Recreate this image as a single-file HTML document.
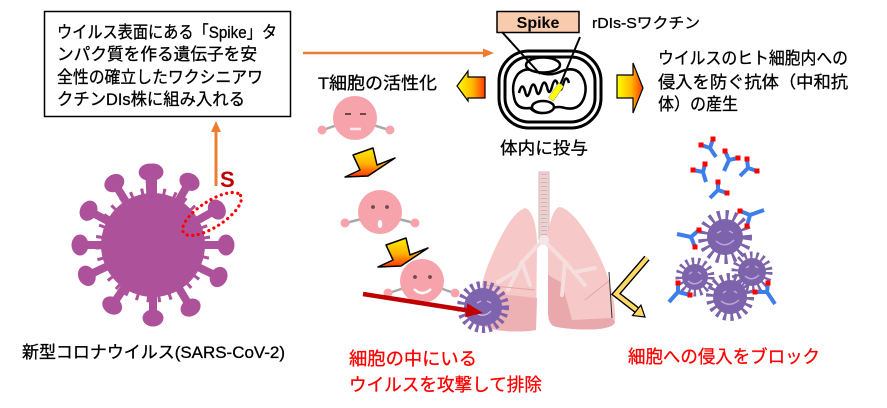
<!DOCTYPE html>
<html><head><meta charset="utf-8">
<style>
html,body{margin:0;padding:0;background:#fff;}
svg{display:block;}
text{font-family:"Liberation Sans","Noto Sans CJK JP",sans-serif;}
.t{stroke:#000;stroke-width:0.3;}
.r{stroke:#FF0000;stroke-width:0.3;}
</style></head><body>
<svg width="887" height="408" viewBox="0 0 887 408" xmlns="http://www.w3.org/2000/svg">
<defs>
<linearGradient id="gh" x1="0" y1="0" x2="1" y2="0">
 <stop offset="0" stop-color="#FFFF00"/><stop offset="0.55" stop-color="#FFB800"/><stop offset="1" stop-color="#FF3A00"/>
</linearGradient>
<linearGradient id="gv" x1="0" y1="0" x2="0" y2="1">
 <stop offset="0" stop-color="#FFF000"/><stop offset="0.55" stop-color="#FFB000"/><stop offset="1" stop-color="#FF3000"/>
</linearGradient>
</defs>

<!-- Text box -->
<rect x="44.5" y="11.5" width="246" height="105" fill="#fff" stroke="#000" stroke-width="1.5"/>
<text class="t" x="57" y="38" font-size="17" textLength="220" lengthAdjust="spacingAndGlyphs">ウイルス表面にある「Spike」タ</text>
<text class="t" x="57" y="60" font-size="17" textLength="200" lengthAdjust="spacingAndGlyphs">ンパク質を作る遺伝子を安</text>
<text class="t" x="57" y="83" font-size="17" textLength="206" lengthAdjust="spacingAndGlyphs">全性の確立したワクシニアワ</text>
<text class="t" x="57" y="105" font-size="17" textLength="188" lengthAdjust="spacingAndGlyphs">クチンDIs株に組み入れる</text>

<!-- orange arrows -->
<line x1="303" y1="53" x2="485" y2="53" stroke="#ED7D31" stroke-width="2.5"/>
<polygon points="494,53 483,48.5 483,57.5" fill="#ED7D31"/>
<line x1="216" y1="186" x2="216" y2="130" stroke="#ED7D31" stroke-width="3"/>
<polygon points="216,121 211,132 221,132" fill="#ED7D31"/>

<!-- Left virus -->
<g transform="translate(153,245)" fill="#AE519B">
 <circle r="52"/>
 <circle r="54" fill="none" stroke="#AE519B" stroke-width="7" stroke-dasharray="3 8"/>
 <g id="spk"><rect x="-4" y="-70" width="8" height="22"/><ellipse cx="0" cy="-73" rx="10.5" ry="8.5"/></g>
 <use href="#spk" transform="rotate(-3)"/>
 <use href="#spk" transform="rotate(30)"/>
 <use href="#spk" transform="rotate(61)"/>
 <use href="#spk" transform="rotate(90)"/>
 <use href="#spk" transform="rotate(116)"/>
 <use href="#spk" transform="rotate(149)"/>
 <use href="#spk" transform="rotate(180)"/>
 <use href="#spk" transform="rotate(214)"/>
 <use href="#spk" transform="rotate(245)"/>
 <use href="#spk" transform="rotate(270)"/>
 <use href="#spk" transform="rotate(298)"/>
 <use href="#spk" transform="rotate(328)"/>
</g>
<ellipse cx="212" cy="214" rx="34" ry="13" transform="rotate(-33 212 214)" fill="none" stroke="#FF0000" stroke-width="3.2" stroke-dasharray="0.1 5.5" stroke-linecap="round"/>
<text x="220" y="187" font-size="22" font-weight="bold" fill="#C00000">S</text>
<text class="t" x="22" y="358" font-size="17" textLength="263" lengthAdjust="spacingAndGlyphs">新型コロナウイルス(SARS-CoV-2)</text>

<!-- Vaccine icon -->
<rect x="497" y="11.5" width="82" height="21" fill="#F8CBAD" stroke="#000" stroke-width="1.5"/>
<text x="538" y="28" font-size="16" font-weight="bold" text-anchor="middle">Spike</text>
<text class="t" x="592" y="28" font-size="15" textLength="108" lengthAdjust="spacingAndGlyphs">rDIs-Sワクチン</text>
<g fill="none" stroke="#000" stroke-width="3">
 <rect x="499" y="51" width="102" height="77" rx="30"/>
 <rect x="505" y="57" width="90" height="65" rx="24"/>
 <path d="M518,74 Q526,66 538,72 Q550,77 562,71 Q576,66 582,76 Q588,86 584,98 Q579,111 565,108 Q555,105 548,111 Q538,116 530,108 Q516,110 514,97 Q511,83 518,74 Z" stroke-width="2.5"/>
 <ellipse cx="543" cy="65" rx="17" ry="7.5" fill="#fff" stroke-width="2.5"/>
 <ellipse cx="543" cy="107" rx="11" ry="6" fill="#fff" stroke-width="2.5"/>
 <path d="M519,93 q3,-12 6,-2 q2,10 5,0 q3,-12 6,-2 q2,10 5,0 q3,-12 6,-2 q2,10 5,0 q3,-12 6,-2 q2,10 5,0 q3,-12 6,-2" stroke-width="2.5"/>
 <line x1="502" y1="32" x2="540" y2="74" stroke-width="2"/>
 <line x1="580" y1="37" x2="555" y2="97" stroke-width="2"/>
</g>
<rect x="553" y="83" width="6" height="18" fill="#FFFF00" stroke="#999" stroke-width="0.5" transform="rotate(35 556 92)"/>
<text class="t" x="500" y="154" font-size="17" textLength="88" lengthAdjust="spacingAndGlyphs">体内に投与</text>

<!-- side block arrows -->
<polygon points="457,86 468,71 468,77 485,77 485,98 468,98 468,101" fill="url(#gh)" stroke="#000" stroke-width="1.2"/>
<polygon points="617,75 633,75 633,63 643,88 633,113 633,98 617,98" fill="url(#gh)" stroke="#000" stroke-width="1.2"/>

<text class="t" x="318" y="89" font-size="17" textLength="119" lengthAdjust="spacingAndGlyphs">T細胞の活性化</text>
<text class="t" x="658" y="64" font-size="17" textLength="190" lengthAdjust="spacingAndGlyphs">ウイルスのヒト細胞内への</text>
<text class="t" x="658" y="88" font-size="17" textLength="190" lengthAdjust="spacingAndGlyphs">侵入を防ぐ抗体（中和抗</text>
<text class="t" x="658" y="110" font-size="17" textLength="80" lengthAdjust="spacingAndGlyphs">体）の産生</text>

<!-- T cells -->
<g stroke="#A8A8A8" stroke-width="2.5">
 <line x1="340" y1="124" x2="323" y2="130"/><line x1="370" y1="124" x2="389" y2="130"/>
 <line x1="365" y1="218" x2="346" y2="223"/><line x1="395" y1="218" x2="414" y2="223"/>
 <line x1="407" y1="287" x2="389" y2="293"/><line x1="437" y1="287" x2="454" y2="293"/>
</g>
<g fill="#F7A3AB">
 <circle cx="322" cy="130" r="4.5"/><circle cx="390" cy="130" r="4.5"/>
 <circle cx="345" cy="223" r="4.5"/><circle cx="415" cy="223" r="4.5"/>
 <circle cx="388" cy="293" r="4.5"/><circle cx="455" cy="293" r="4.5"/>
 <circle cx="355" cy="118" r="22"/>
 <circle cx="380" cy="212" r="22"/>
 <circle cx="422" cy="281" r="22"/>
</g>
<g stroke="#6a4a4a" stroke-width="2"><line x1="345" y1="114" x2="351" y2="114"/><line x1="360" y1="114" x2="366" y2="114"/></g>
<line x1="350" y1="129" x2="361" y2="129" stroke="#FFE8EC" stroke-width="2.5"/>
<g fill="#6a4a4a"><circle cx="373" cy="207" r="1.9"/><circle cx="387" cy="207" r="1.9"/><circle cx="415" cy="277" r="1.9"/><circle cx="430" cy="277" r="1.9"/></g>
<ellipse cx="380" cy="224" rx="2.3" ry="4" fill="#fff"/>
<path d="M414,289 Q422,297 431,289" fill="none" stroke="#fff" stroke-width="2.5"/>

<!-- down arrows -->
<polygon points="353,155 373,148 377,165 395,158 368,176 345,177 360,170" fill="url(#gv)" stroke="#000" stroke-width="1.5" stroke-linejoin="round"/>
<polygon transform="translate(33,90)" points="353,155 373,148 377,165 395,158 368,176 345,177 360,170" fill="url(#gv)" stroke="#000" stroke-width="1.5" stroke-linejoin="round"/>

<!-- Lungs -->
<rect x="539" y="172" width="10" height="68" fill="#EBD2D2" stroke="#DDBABA" stroke-width="1"/>
<line x1="544" y1="174" x2="544" y2="238" stroke="#D9B3B3" stroke-width="6" stroke-dasharray="1 3"/>
<path d="M525,208 C512,212 498,240 488,265 C480,285 478,305 481,322 C484,332 520,333 536,330 L537,245 C537,228 533,210 525,208 Z" fill="#F6C8C8"/>
<path d="M560,207 C572,209 590,235 602,262 C612,285 616,305 615,322 C613,331 580,331 557,327 C550,326 548,320 548,310 L548,245 C548,228 552,208 560,207 Z" fill="#F6C8C8"/>
<path d="M482,292 L537,298 L536,330 C520,333 484,332 481,322 Z" fill="#EDB1B4"/>
<path d="M548,275 L562,283 L572,320 L612,318 L615,322 C613,331 580,331 557,327 C550,326 548,320 548,310 Z" fill="#E8A8AC"/>
<g fill="none" stroke="#F6DEDE" stroke-width="4" stroke-linecap="round">
 <path d="M543,240 L522,262 L508,290"/><path d="M522,262 L530,285"/><path d="M515,272 L498,282"/>
 <path d="M543,240 L565,262 L585,285"/><path d="M565,262 L562,295"/><path d="M575,272 L595,268"/>
</g>
<circle cx="544" cy="240" r="5" fill="#F3E6E6"/>
<g fill="none" stroke="#E2A5A8" stroke-width="1">
 <path d="M484,285 L535,290"/><path d="M585,300 L610,280"/>
</g>

<!-- small virus near lung -->
<g transform="translate(483,307)">
 <circle r="22" fill="none" stroke="#7E63AE" stroke-width="8" stroke-dasharray="3 3.5"/>
 <circle r="19" fill="#7E63AE"/>
 <path d="M-6,-4 l4,-2 M4,-6 l4,2 M-8,5 Q0,12 8,4" stroke="#C3B3DD" stroke-width="1.5" fill="none"/>
</g>
<!-- red arrow -->
<line x1="363" y1="294" x2="468" y2="310.5" stroke="#C00000" stroke-width="4.5"/>
<polygon points="483,313 467.3,303.4 465.1,317.3" fill="#C00000"/>

<!-- yellow chevron arrow -->
<line x1="609" y1="272" x2="612" y2="318" stroke="#333" stroke-width="1"/>
<polyline points="647,258 616,294 638,311" fill="none" stroke="#000" stroke-width="7" stroke-linejoin="miter"/>
<polyline points="647,258 616,294 638,311" fill="none" stroke="#FFD966" stroke-width="4.2" stroke-linejoin="miter"/>
<polygon points="645,317 632.5,315.5 640.9,305.1" fill="#FFD966" stroke="#000" stroke-width="1.2"/>

<!-- right viruses -->
<g fill="#7D63AB">
 <g transform="translate(725,237)"><circle r="22" fill="none" stroke="#7D63AB" stroke-width="10" stroke-dasharray="3 5"/><circle r="18"/></g>
 <g transform="translate(695,277)"><circle r="16" fill="none" stroke="#7D63AB" stroke-width="7" stroke-dasharray="2.5 3.5"/><circle r="13"/></g>
 <g transform="translate(752,272)"><circle r="17" fill="none" stroke="#7D63AB" stroke-width="7" stroke-dasharray="2.5 3.5"/><circle r="14"/></g>
 <g transform="translate(730,297)"><circle r="20" fill="none" stroke="#7D63AB" stroke-width="8" stroke-dasharray="3 4"/><circle r="17"/></g>
</g>
<g fill="none" stroke="#B9A8D8" stroke-width="1.5">
 <path d="M717,233 l4,-2 M729,231 l4,2 M716,241 Q725,249 734,240"/>
 <path d="M689,274 l3,-2 M698,272 l3,2 M688,281 Q695,287 702,280"/>
 <path d="M746,268 l3,-2 M755,266 l3,2 M745,276 Q752,282 759,275"/>
 <path d="M723,293 l3,-2 M734,291 l3,2 M721,301 Q730,308 739,300"/>
</g>

<!-- antibodies -->
<g stroke="#3D7EEA" stroke-width="4" stroke-linecap="butt" fill="none">
 <path d="M701,145 L710,148 L713,139 M710,148 L716,157"/>
 <path d="M725,151 L729,160 L738,158 M729,160 L724,171"/>
 <path d="M693,170 L703,172 L705,164 M703,172 L706,182"/>
 <path d="M747,159 L748,168 L757,171 M748,168 L740,176"/>
 <path d="M718,182 L718,190 L727,193 M718,190 L710,198"/>
 <path d="M740,211 L750,215 L747,226 M750,215 L764,210"/>
 <path d="M699,230 L691,237 L695,247 M691,237 L677,234"/>
 <path d="M678,283 L678,292 L690,295 M678,292 L669,302"/>
 <path d="M768,283 L767,292 L755,292 M767,292 L775,304"/>
</g>
<g fill="#FF0000">
 <rect x="698.5" y="142.5" width="5" height="5"/><rect x="710.5" y="136.5" width="5" height="5"/>
 <rect x="722.5" y="148.5" width="5" height="5"/><rect x="735.5" y="155.5" width="5" height="5"/>
 <rect x="690.5" y="167.5" width="5" height="5"/><rect x="702.5" y="161.5" width="5" height="5"/>
 <rect x="744.5" y="156.5" width="5" height="5"/><rect x="754.5" y="168.5" width="5" height="5"/>
 <rect x="715.5" y="179.5" width="5" height="5"/><rect x="724.5" y="190.5" width="5" height="5"/>
 <rect x="737.5" y="208.5" width="5" height="5"/><rect x="744.5" y="223.5" width="5" height="5"/>
 <rect x="696.5" y="227.5" width="5" height="5"/><rect x="692.5" y="244.5" width="5" height="5"/>
 <rect x="675.5" y="280.5" width="5" height="5"/><rect x="687.5" y="292.5" width="5" height="5"/>
 <rect x="765.5" y="280.5" width="5" height="5"/><rect x="752.5" y="289.5" width="5" height="5"/>
</g>

<!-- red labels -->
<text class="r" x="349" y="365" font-size="18" fill="#FF0000" textLength="128" lengthAdjust="spacingAndGlyphs">細胞の中にいる</text>
<text class="r" x="349" y="391" font-size="18" fill="#FF0000" textLength="193" lengthAdjust="spacingAndGlyphs">ウイルスを攻撃して排除</text>
<text class="r" x="628" y="363" font-size="18" fill="#FF0000" textLength="192" lengthAdjust="spacingAndGlyphs">細胞への侵入をブロック</text>
</svg>
</body></html>
